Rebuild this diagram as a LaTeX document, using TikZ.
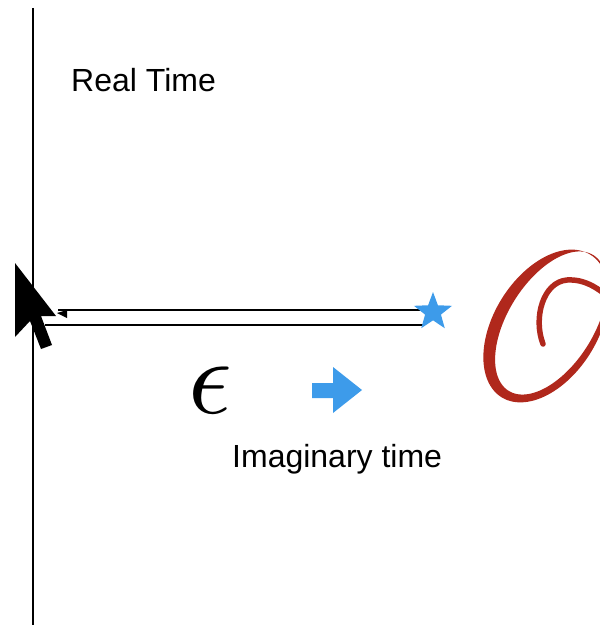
\documentclass[tikz,border=0pt]{standalone}
\usepackage{fontspec}
\setmainfont{Liberation Sans}
\usetikzlibrary{shapes.geometric}
\definecolor{skyblue}{HTML}{3D9BEA}
\definecolor{opred}{HTML}{B0281C}
\tikzset{
  lbl/.style={font=\fontsize{32}{36}\selectfont, anchor=base west, inner sep=0pt},
  axis/.style={line width=2.6pt, black},
  rail/.style={line width=2.8pt, black},
  curl/.style={draw=opred, line width=5.5pt, line cap=round},
}
\begin{document}
\begin{tikzpicture}[x=1pt,y=-1pt]
\useasboundingbox (0,0) rectangle (599,628);
% vertical real-time axis
\coordinate (vtop) at (33,8);
\coordinate (vbot) at (33,625);
\draw[axis] (vtop) -- (vbot);
\node[lbl] (rt) at (71,92) {Real Time};
% double rail
\coordinate (t1) at (58,310);
\coordinate (t2) at (423,310);
\coordinate (b1) at (45,325);
\coordinate (b2) at (423,325);
\draw[rail] (t1) -- (t2);
\draw[rail] (b1) -- (b2);
\fill (57,313) -- (67,310) -- (67,318) -- cycle;
% star
\node[star, star points=5, star point ratio=2.4, fill=skyblue, minimum size=40pt, inner sep=0pt] (st) at (433,312) {};
% epsilon
\node[scale=10.8, inner sep=0pt, draw=none] (eps) at (210,390) {$\epsilon$};
% blue arrow
\fill[skyblue] (312,383) -- (333,383) -- (333,367) -- (362,390) -- (333,413) -- (333,398) -- (312,398) -- cycle;
\node[lbl] (it) at (232,467) {Imaginary time};
% operator O (script letter drawn as shapes)
\fill[opred, even odd rule]
  plot[domain=0:360, samples=120] ({546 + 84*cos(\x)*cos(58) - 52*sin(\x)*sin(58)}, {326 - (84*cos(\x)*sin(58) + 52*sin(\x)*cos(58))}) -- cycle
  plot[domain=0:360, samples=120] ({551 + 80*cos(\x)*cos(58) - 43*sin(\x)*sin(58)}, {323 - (80*cos(\x)*sin(58) + 43*sin(\x)*cos(58))}) -- cycle;
\draw[curl] (543,344) .. controls (533,318) and (543,282) .. (567,280) .. controls (585,279) and (598,288) .. (612,300);
% cursor
\fill[black] (15,263) -- (15,337) -- (30,321) -- (41,349) -- (52,345) -- (41,316) -- (56,316) -- cycle;
\end{tikzpicture}
\end{document}
